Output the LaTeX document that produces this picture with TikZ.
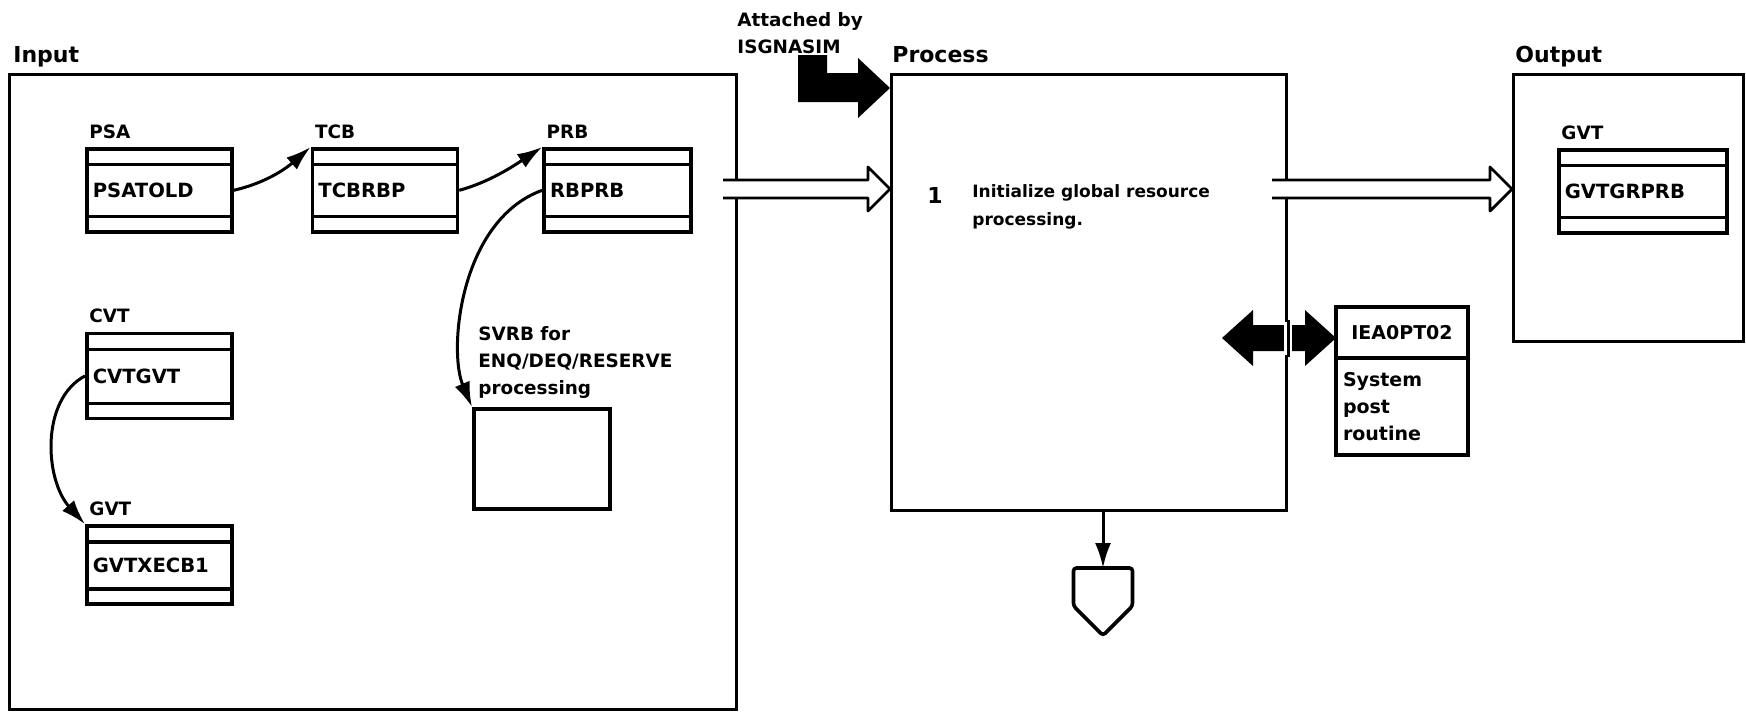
\documentclass[tikz,border=0pt]{standalone}
\usepackage{fontspec}
\setmainfont{DejaVu Sans}
\usepackage{tikz}
\usetikzlibrary{arrows.meta,calc,positioning,shapes.symbols}
\tikzset{
  panel/.style={draw,line width=1.5pt,anchor=north west,inner sep=0pt},
  heading/.style={anchor=base west,inner sep=0pt,
    font=\bfseries\fontsize{11}{13}\selectfont},
  fieldbox/.style={draw,line width=1.8pt,anchor=north west,text width=#1,
    minimum height=41.5pt,inner xsep=3pt,inner ysep=0pt,align=left,
    font=\bfseries\fontsize{9.8}{11}\selectfont,
    path picture={
      \draw[line width=1.6pt]
        ([yshift=-8pt]path picture bounding box.north west)
        -- ([yshift=-8pt]path picture bounding box.north east);
      \draw[line width=1.6pt]
        ([yshift=7.5pt]path picture bounding box.south west)
        -- ([yshift=7.5pt]path picture bounding box.south east);}},
  fieldbox/.default=66.5pt,
  tag/.style={inner sep=0pt,font=\bfseries\fontsize{9.2}{11}\selectfont},
  note/.style={anchor=north west,inner sep=0pt,align=left,
    font=\bfseries\fontsize{9.2}{13.5}\selectfont},
  plainbox/.style={draw,line width=1.8pt,anchor=north west},
  callbox/.style={draw,line width=1.8pt,minimum width=66pt,outer sep=0pt,
    font=\bfseries\fontsize{9.5}{13.7}\selectfont},
  offpage/.style={draw,line width=1.8pt,signal,signal to=south,
    signal pointer angle=90,minimum width=29.5pt,minimum height=19pt,
    inner sep=0pt,outer sep=0pt,rounded corners=1.5pt},
  ptr/.style={-{Latex[length=12.5pt,width=8pt]},line width=1.5pt}
}
\newcommand{\hollowflow}[2]{%
  \draw[line width=1.4pt,fill=white,line join=round]
    ($(#1)+(0,-9)$) -- ($(#2)+(-22,-9)$) -- ($(#2)+(-22,-22)$) -- (#2)
    -- ($(#2)+(-22,22)$) -- ($(#2)+(-22,9)$) -- ($(#1)+(0,9)$);}

\begin{document}
\begin{tikzpicture}[x=0.5pt,y=-0.5pt]
  \useasboundingbox (0,0) rectangle (1746,713);
  \node[panel,minimum width=363.5pt,minimum height=317.5pt] (input) at (8,73) {};
  \node[panel,minimum width=197.5pt,minimum height=218pt] (proc) at (890,73) {};
  \node[panel,minimum width=115pt,minimum height=133.5pt] (output) at (1512,73) {};
  \node[heading] (inputhd) at ([shift={(5,-11)}]input.north west) {Input};
  \node[heading] (prochd) at ([shift={(2,-11)}]proc.north west) {Process};
  \node[heading] (outputhd) at ([shift={(3,-11)}]output.north west) {Output};

  \node[fieldbox] (psa) at (85,147) {PSATOLD};
  \node[fieldbox,right=38.5pt of psa] (tcb) {TCBRBP};
  \node[fieldbox=67.5pt,right=41.5pt of tcb] (prb) {RBPRB};
  \node[fieldbox,below=49pt of psa,minimum height=42.5pt] (cvt) {CVTGVT};
  \node[fieldbox,below=52pt of cvt,minimum height=39pt] (gvtx) {GVTXECB1};
  \node[fieldbox=78pt] (gvtout) at (1557,148) {GVTGRPRB};
  \foreach \fld/\name in {psa/PSA,tcb/TCB,prb/PRB,cvt/CVT,gvtx/GVT,gvtout/GVT}
    \node[tag,above right=4pt and 2pt of \fld.north west] (\fld-tag) {\name};

  \node[plainbox,minimum width=68pt,minimum height=50pt] (svrb) at (472,407) {};
  \node[note,above right=4pt and 3pt of svrb.north west] (svrb-tag)
    {SVRB for\\ENQ/DEQ/RESERVE\\processing};

  \draw[ptr] (psa.east) .. controls (270,182) and (290,165) .. (tcb.north west);
  \draw[ptr] (tcb.east) .. controls (490,182) and (515,165) .. (prb.north west);
  \draw[ptr] (prb.west) .. controls (460,220) and (448,350) .. (svrb.north west);
  \draw[ptr] (cvt.west) .. controls (40,400) and (45,480) .. (gvtx.north west);

  \node[note] (attach) at (737,12) {Attached by\\ISGNASIM};
  \coordinate (attachtip) at ([yshift=-7.5pt]proc.north west);
  \fill (attachtip) -- ++(-32,-30) -- ++(0,15) -- ++(-31,0) -- ++(0,-18)
    -- ++(-29,0) -- ++(0,47) -- ++(60,0) -- ++(0,16) -- cycle;

  \node[anchor=base west,inner sep=0pt,font=\bfseries\fontsize{11}{13}\selectfont]
    (stepno) at (927,203) {1};
  \node[note,font=\bfseries\fontsize{8.5}{14}\selectfont] (steptext) at (972,184)
    {Initialize global resource\\processing.};

  \coordinate (inflow) at (723,189);
  \coordinate (intip) at (inflow -| proc.west);
  \hollowflow{inflow}{intip}
  \coordinate (outflow) at (1272,189);
  \coordinate (outtip) at (outflow -| output.west);
  \hollowflow{outflow}{outtip}

  \node[callbox,anchor=north west,minimum height=25.5pt] (iea) at (1336,307) {IEA0PT02};
  \node[callbox,anchor=north,minimum height=48.5pt,text width=59pt,inner xsep=3.5pt,
    align=left] (iea-body) at (iea.south) {System\\post\\routine};
  \coordinate (postlink) at (1222,338);
  \coordinate (posttip) at (postlink -| iea.west);
  \fill (postlink) -- ++(31,-28) -- ++(0,15) -- ++(52,0) -- ++(0,-15) -- (posttip)
    -- ++(-31,28) -- ++(0,-15) -- ++(-52,0) -- ++(0,15) -- cycle;
  \draw[white,line width=4pt] (proc.east |- 0,322) -- (proc.east |- 0,355);
  \draw[line width=1.5pt] (proc.east |- 0,320) -- (proc.east |- 0,357);

  \node[offpage,anchor=north] (offp) at (1103,568) {};
  \draw[ptr] (proc.south -| offp.north) -- (offp.north);
\end{tikzpicture}
\end{document}
